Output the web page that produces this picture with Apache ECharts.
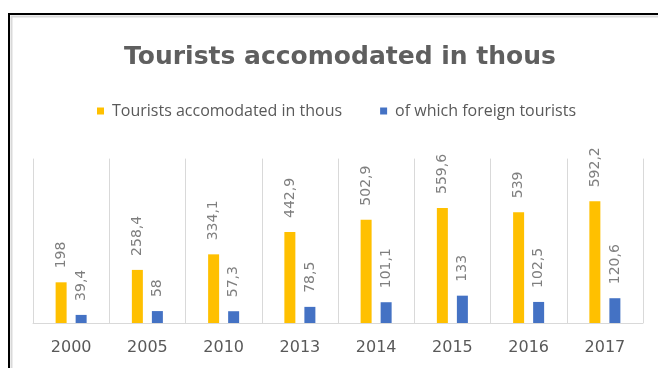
<!DOCTYPE html>
<html>
<head>
<meta charset="utf-8">
<title>Tourists accomodated in thous</title>
<script src="https://cdn.jsdelivr.net/npm/echarts@6/dist/echarts.min.js"></script>
<style>
  html, body { margin: 0; padding: 0; background: #ffffff; }
  #chart { width: 658px; height: 368px; }
</style>
</head>
<body>
<div id="chart"></div>
<script>
// Years on the category axis
const years = ['2000', '2005', '2010', '2013', '2014', '2015', '2016', '2017'];
// Tourists accommodated, thousands
const touristsTotal = [198, 258.4, 334.1, 442.9, 502.9, 559.6, 539, 592.2];
// Of which foreign tourists, thousands
const touristsForeign = [39.4, 58, 57.3, 78.5, 101.1, 133, 102.5, 120.6];

const seriesNames = ['Tourists accomodated in thous', 'of which foreign tourists'];
const chartTitle = 'Tourists accomodated in thous';

// Decimal comma, as in the source tables
const fmt = p => String(p.value).replace('.', ',');

const labelStyle = {
  show: true,
  position: 'top',
  rotate: 90,
  align: 'left',
  verticalAlign: 'middle',
  distance: 14,
  formatter: fmt,
  color: '#7f7f7f',
  fontFamily: 'DejaVu Sans',
  fontSize: 14
};

const chart = echarts.init(document.getElementById('chart'), null, { renderer: 'canvas' });

chart.setOption({
  backgroundColor: '#ffffff',
  animation: false,
  title: {
    text: chartTitle,
    left: 335,
    top: 40,
    textAlign: 'center',
    textStyle: {
      fontFamily: 'DejaVu Sans',
      fontWeight: 'bold',
      fontSize: 25,
      color: '#5f5f5f'
    }
  },
  legend: {
    left: 97,
    top: 103,
    padding: 0,
    icon: 'rect',
    itemWidth: 7,
    itemHeight: 7,
    itemGap: 38,
    textStyle: {
      fontFamily: 'Open Sans',
      fontSize: 16,
      color: '#595959',
      padding: [0, 0, 0, 3]
    },
    data: seriesNames
  },
  graphic: [
    {
      type: 'rect',
      shape: { x: 11.5, y: 16.5, width: 700, height: 400 },
      style: { fill: 'none', stroke: '#d9d9d9', lineWidth: 2 },
      silent: true
    },
    {
      type: 'rect',
      shape: { x: 9, y: 14, width: 700, height: 400 },
      style: { fill: 'none', stroke: '#000000', lineWidth: 2 },
      silent: true
    }
  ],
  grid: {
    left: 33,
    right: 15,
    top: 158.6,
    bottom: 45
  },
  xAxis: {
    type: 'category',
    data: years,
    axisLine: { show: true, lineStyle: { color: '#d9d9d9', width: 1 } },
    axisTick: { show: false },
    splitLine: { show: true, lineStyle: { color: '#d9d9d9', width: 1 } },
    axisLabel: {
      margin: 17,
      fontFamily: 'DejaVu Sans',
      fontSize: 16,
      color: '#595959'
    }
  },
  yAxis: {
    type: 'value',
    min: 0,
    max: 800,
    show: false,
    splitLine: { show: false }
  },
  series: [
    {
      name: seriesNames[0],
      type: 'bar',
      data: touristsTotal,
      barWidth: 11,
      barGap: '82%',
      itemStyle: { color: '#ffc000' },
      label: labelStyle
    },
    {
      name: seriesNames[1],
      type: 'bar',
      data: touristsForeign,
      barWidth: 11,
      barGap: '82%',
      itemStyle: { color: '#4472c4' },
      label: labelStyle
    }
  ]
});
</script>
</body>
</html>
